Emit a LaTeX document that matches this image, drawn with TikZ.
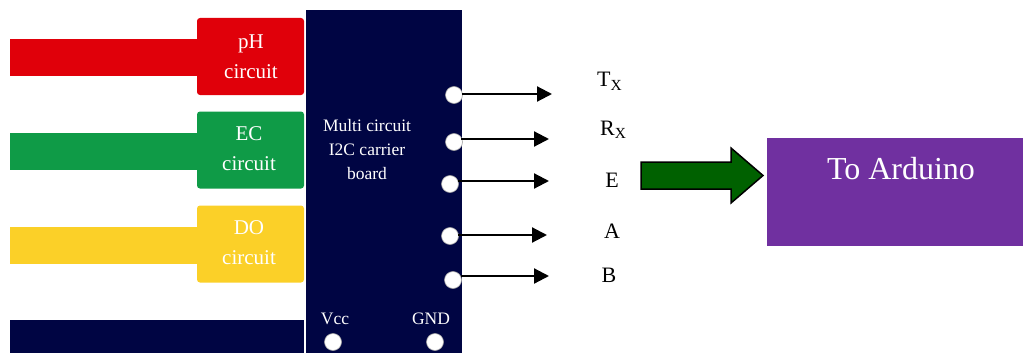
\documentclass[tikz,border=0pt]{standalone}
\usepackage{fontspec}
\setmainfont{Liberation Serif}
\usetikzlibrary{arrows.meta,positioning}
\definecolor{navyb}{HTML}{000543}
\definecolor{redc}{HTML}{E0000A}
\definecolor{greenc}{HTML}{0F9B47}
\definecolor{yellowc}{HTML}{FBD028}
\definecolor{purplec}{HTML}{7030A0}
\definecolor{darkgreen}{HTML}{006100}
\tikzset{
  x=1pt,y=-1pt,
  tabbox/.style={rounded corners=3pt,inner sep=0pt,minimum width=107pt,minimum height=77pt},
  tabtxt/.style={inner sep=0pt,text=white,align=center,font=\fontsize{21}{30}\selectfont},
  stripe/.style={inner sep=0pt,minimum width=187pt,minimum height=37pt},
  pin/.style={circle,fill=white,draw=gray!70,line width=.6pt,inner sep=0pt,minimum size=17pt},
  sig/.style={line width=2.2pt,-{Triangle[length=15pt,width=15pt]}},
  lab/.style={inner sep=0pt,font=\fontsize{22}{26}\selectfont},
  boardtxt/.style={inner sep=0pt,text=white,align=center,font=\fontsize{17.5}{24}\selectfont},
}
\begin{document}
\begin{tikzpicture}
\useasboundingbox (0,0) rectangle (1023,353);
% stripes
\node[stripe,fill=redc,anchor=west] (rs) at (10,57.5) {};
\node[stripe,fill=greenc,anchor=west] (gs) at (10,151) {};
\node[stripe,fill=yellowc,anchor=west] (ys) at (10,245) {};
\fill[navyb] (10,320) rectangle (304,353);
% tabs
\node[tabbox,fill=redc] (ph) at (250.5,56.5) {};
\node[tabbox,fill=greenc] (ec) at (250.5,150) {};
\node[tabbox,fill=yellowc] (do) at (250.5,244) {};
\node[tabtxt] (pht) at (251,57) {pH\\circuit};
\node[tabtxt] (ect) at (249,148.5) {EC\\circuit};
\node[tabtxt] (dot) at (249,242.5) {DO\\circuit};
% board
\node[fill=navyb,inner sep=0pt,minimum width=156pt,minimum height=343pt,anchor=north west] (board) at (306,10) {};
\node[boardtxt] (bt) at (367,150) {Multi circuit\\I2C carrier\\board};
\node[pin] (p1) at (454,95) {};
\node[pin] (p2) at (454,142) {};
\node[pin] (p3) at (450,184) {};
\node[pin] (p4) at (450,236) {};
\node[pin] (p5) at (453,280) {};
\node[pin] (p6) at (333,342) {};
\node[pin] (p7) at (435,342) {};
\node[boardtxt] (vcc) at (335,319) {Vcc};
\node[boardtxt] (gnd) at (431,319) {GND};
% signal ends
\coordinate (e1) at (552,94);
\coordinate (e2) at (549,139);
\coordinate (e3) at (549,181);
\coordinate (e4) at (547,235);
\coordinate (e5) at (549,276);
\draw[sig] (p1.center |- e1) ++(8,0) -- (e1);
\draw[sig] (p2.center |- e2) ++(7,0) -- (e2);
\draw[sig] (p3.center |- e3) ++(8,0) -- (e3);
\draw[sig] (p4.center |- e4) ++(8,0) -- (e4);
\draw[sig] (p5.center |- e5) ++(8,0) -- (e5);
% labels
\node[lab,anchor=base west] (tx) at (597,87) {T\textsubscript{X}};
\node[lab,anchor=base west] (rx) at (600,135) {R\textsubscript{X}};
\node[lab] (le) at (612,180) {E};
\node[lab] (la) at (612,231) {A};
\node[lab] (lb) at (609,275) {B};
% big arrow
\draw[fill=darkgreen,line width=1.5pt,miter limit=10] (641,162) -- (731,162) -- (731,148) -- (763,175.5) -- (731,203) -- (731,189) -- (641,189) -- cycle;
% arduino
\node[fill=purplec,inner sep=0pt,minimum width=256pt,minimum height=108pt,anchor=north west] (ard) at (767,138) {};
\node[inner sep=0pt,text=white,font=\fontsize{32}{36}\selectfont] (at) at (901,169) {To Arduino};
\end{tikzpicture}
\end{document}
